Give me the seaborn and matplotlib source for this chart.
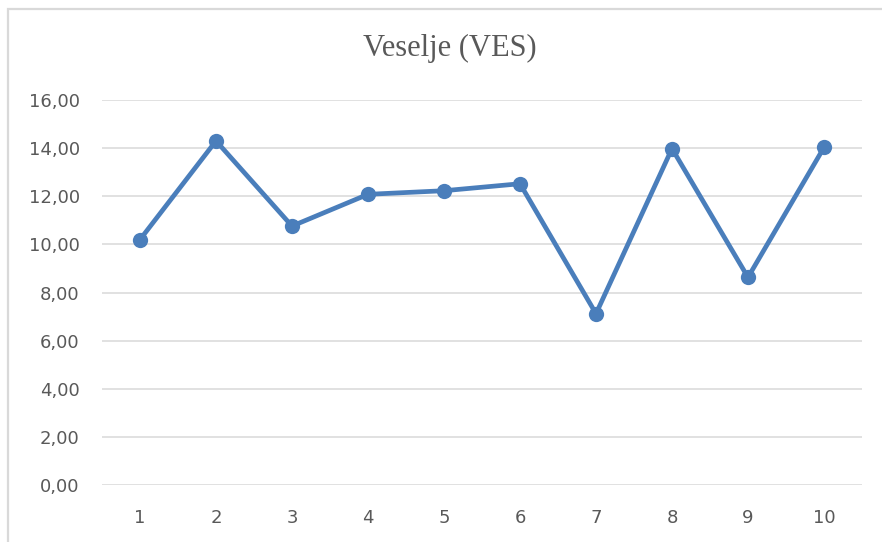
import matplotlib
matplotlib.use('Agg')
import matplotlib.pyplot as plt
import seaborn as sns
import pandas as pd
from matplotlib.patches import Rectangle
from matplotlib.ticker import FuncFormatter

# values
cases = [1, 2, 3, 4, 5, 6, 7, 8, 9, 10]
ves = [10.20, 14.30, 10.76, 12.08, 12.23, 12.52, 7.12, 13.98, 8.63, 14.03]
yticks = [0, 2, 4, 6, 8, 10, 12, 14, 16]

df = pd.DataFrame({'case': cases, 'VES': ves})

sns.set_style("white")
fig = plt.figure(figsize=(8.82, 5.42), dpi=100)
ax = fig.add_axes([102/882, 1-485/542, 760/882, 385/542])

sns.lineplot(data=df, x='case', y='VES', ax=ax, color='#4a7ebb', linewidth=3.4,
             marker='o', markersize=11, markeredgewidth=0, zorder=3)

ax.set_xlim(0.5, 10.5)
ax.set_ylim(0, 16)
ax.set_xticks(cases)
ax.set_yticks(yticks)
ax.yaxis.set_major_formatter(FuncFormatter(lambda v, p: f"{v:.2f}".replace('.', ',')))
ax.grid(axis='y', color='#d9d9d9', linewidth=1.1)
ax.set_axisbelow(True)
for s in ax.spines.values():
    s.set_visible(False)
ax.tick_params(axis='both', length=0, labelsize=13, labelcolor='#595959')
ax.tick_params(axis='x', pad=17)
ax.tick_params(axis='y', pad=16)
ax.set_xlabel('')
ax.set_ylabel('')
for lbl in ax.get_xticklabels() + ax.get_yticklabels():
    lbl.set_family('DejaVu Sans')

fig.text(0.51, 1-48/542, 'Veselje (VES)', ha='center', va='center',
         fontsize=22, color='#595959', family='Liberation Serif')

# outer chart frame (only left and top visible in the reference)
fig.patches.append(Rectangle((8/882, -0.1), 1.2, 1-9/542+0.1, transform=fig.transFigure,
                             fill=False, edgecolor='#d9d9d9', linewidth=1.6, zorder=0))

plt.savefig('out.png', dpi=100)
plt.close()
